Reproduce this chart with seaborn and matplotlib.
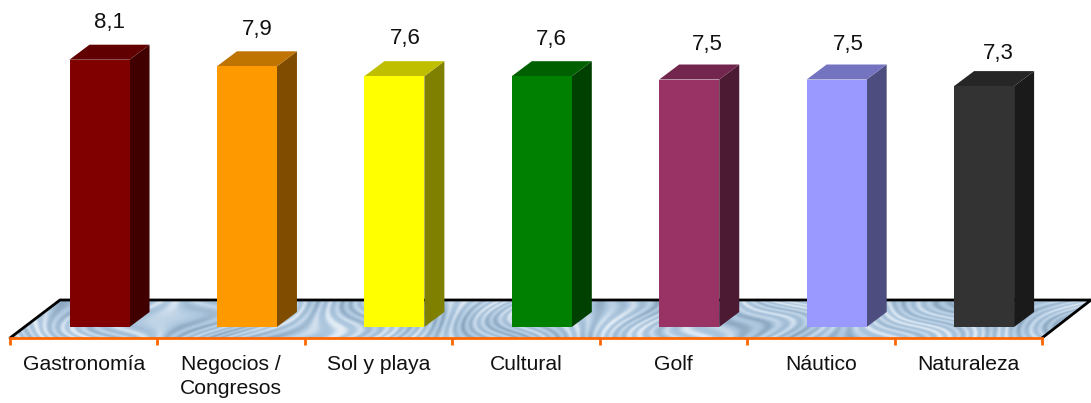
import numpy as np
import matplotlib
matplotlib.use("Agg")
import matplotlib.pyplot as plt
from matplotlib.colors import LinearSegmentedColormap, to_rgb
from matplotlib.patches import Polygon
import seaborn as sns

categories = ["Gastronomía", "Negocios /\nCongresos", "Sol y playa", "Cultural", "Golf", "Náutico", "Naturaleza"]
values = [8.1, 7.9, 7.6, 7.6, 7.5, 7.5, 7.3]
colors = ["#800000", "#FF9900", "#FFFF00", "#008000", "#993366", "#9999FF", "#333333"]
# the value labels are not quite evenly placed in the original (pixels)
label_nudge_x = [0, 0, 1, 0, 8, 2, 4]
label_nudge_y = [0, 0, 1, 0, -2, -2, -4]

W, H = 1091, 403
sns.set_theme(style="white")
plt.rcParams['font.family'] = ['Liberation Sans', 'DejaVu Sans']

fig = plt.figure(figsize=(W / 100, H / 100), dpi=100)
# axes spans the orange axis line, everything 3d hangs off it
ax = fig.add_axes([10 / W, (H - 338) / H, 1032 / W, 338 / H])

sns.barplot(x=categories, y=values, hue=categories, palette=colors, saturation=1,
            width=60 / 147.4, legend=False, ax=ax, zorder=5, linewidth=0)

px_x = 1 / 147.4  # data units per pixel
px_y = 1 / 33.0
ax.set_xlim(-0.5, 6.5)
ax.set_ylim(-11 * px_y, 327 * px_y)

# depth of the fake 3d boxes, bars sit right of the cell centre because of it
dx, dy = 20 * px_x, 15 * px_y
shift = 15.8 * px_x


def shade(c, f):
    return tuple(v * f for v in to_rgb(c))


for i, (bar, val, c) in enumerate(zip(ax.patches, values, colors)):
    bar.set_x(bar.get_x() + shift)
    x0, x1 = bar.get_x(), bar.get_x() + bar.get_width()
    side = [(x1, 0), (x1 + dx, dy), (x1 + dx, val + dy), (x1, val)]
    top = [(x0, val), (x0 + dx, val + dy), (x1 + dx, val + dy), (x1, val)]
    ax.add_patch(Polygon(side, fc=shade(c, 0.5), ec="none", zorder=4, clip_on=False))
    ax.add_patch(Polygon(top, fc=shade(c, 0.75), ec="none", zorder=4, clip_on=False))
    ax.text((x0 + x1) / 2 + (10 + label_nudge_x[i]) * px_x, val + dy + (22 + label_nudge_y[i]) * px_y,
            f"{val:.1f}".replace(".", ","),
            ha="center", va="center", fontsize=16, color="#111111", clip_on=False)

# floor, a swirly texture clipped to a parallelogram
floor_y0, floor_y1 = -11 * px_y, 27 * px_y
x_l, x_r = -0.5, 6.5
floor = [(x_l, floor_y0), (x_l + 50 * px_x, floor_y1), (x_r + 49 * px_x, floor_y1), (x_r, floor_y0)]
xx, yy = np.meshgrid(np.arange(0, 1091.0), np.linspace(0, 38, 120))
warp = 26 * np.sin(xx / 83 + yy / 14) + 14 * np.sin(xx / 31 - yy / 9) + 1.1 * yy * np.cos(xx / 120)
tex = np.sin((xx + warp) / 2.1) + 0.6 * np.sin((xx + warp) / 7.5) + 0.5 * np.sin(xx / 47 + yy / 10)
marble = LinearSegmentedColormap.from_list(
    "marble", ["#8aa6c0", "#9cb6ce", "#a9c4dc", "#b6cde2", "#cfdfee", "#e4edf5"])
im = ax.imshow(tex, extent=(x_l, x_r + 49 * px_x, floor_y0, floor_y1), origin="lower", aspect="auto",
               cmap=marble, zorder=1, interpolation="bilinear")
clip = Polygon(floor, fc="none", ec="none", transform=ax.transData)
ax.add_patch(clip)
im.set_clip_box(fig.bbox)
im.set_clip_path(clip)
ax.plot([p[0] for p in floor], [p[1] for p in floor],
        color="black", lw=2, zorder=2, clip_on=False, solid_joinstyle="miter")
ax.set_xlim(-0.5, 6.5)
ax.set_ylim(-11 * px_y, 327 * px_y)

# axis
for s in ["top", "left", "right"]:
    ax.spines[s].set_visible(False)
ax.spines["bottom"].set_color("#FF6600")
ax.spines["bottom"].set_linewidth(2)
ax.spines["bottom"].set_zorder(6)
ax.set_yticks([])
ax.set_xticks(range(len(categories)))
ax.set_xticklabels(categories, fontsize=15.2, color="#111111", linespacing=1.3)
ax.set_xticks(np.arange(-0.5, 7), minor=True)
ax.tick_params(axis="x", which="major", length=0, pad=12.5)
ax.tick_params(axis="x", which="minor", length=5, width=2, color="#FF6600", bottom=True)
ax.set_xlabel("")
ax.set_ylabel("")

fig.savefig("out.png", dpi=100)
